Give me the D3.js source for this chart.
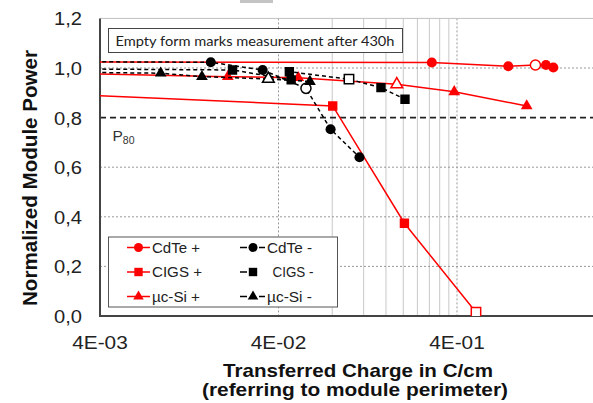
<!DOCTYPE html>
<html>
<head>
<meta charset="utf-8">
<script src="https://cdn.jsdelivr.net/npm/d3@7"></script>
<style>
  body { margin: 0; background: #fff; }
  svg { display: block; font-family: "Liberation Sans", Arial, sans-serif; }
</style>
</head>
<body>
<div id="chart"></div>
<script>
// axis ticks
const yTicks = [0, 0.2, 0.4, 0.6, 0.8, 1.0, 1.2];
const yTickLabels = ["0,0", "0,2", "0,4", "0,6", "0,8", "1,0", "1,2"];
const xTicks = [0.004, 0.04, 0.4];
const xTickLabels = ["4E-03", "4E-02", "4E-01"];
const minorX = [0.08, 0.12, 0.16, 0.2, 0.24, 0.28, 0.32, 0.36];
const p80 = 0.8;

// positive polarity (red, solid)
const cdtePlusX = [0.002, 0.289, 0.775, 1.10, 1.26, 1.386];
const cdtePlusY = [1.024, 1.022, 1.007, 1.012, 1.012, 1.002];
const cigsPlusX = [0.002, 0.0805, 0.203, 0.511];
const cigsPlusY = [0.897, 0.847, 0.374, 0.015];
const siPlusX = [0.002, 0.0208, 0.0516, 0.184, 0.386, 0.983];
const siPlusY = [0.980, 0.965, 0.961, 0.934, 0.904, 0.847];

// negative polarity (black, dashed)
const cdteMinusX = [0.002, 0.0167, 0.0326, 0.057, 0.0783, 0.1137];
const cdteMinusY = [1.026, 1.023, 0.992, 0.918, 0.753, 0.640];
const cigsMinusX = [0.002, 0.0221, 0.0471, 0.046, 0.0993, 0.150, 0.2045];
const cigsMinusY = [0.997, 0.992, 0.952, 0.985, 0.955, 0.921, 0.874];
const siMinusX = [0.002, 0.00875, 0.0149, 0.0351, 0.060];
const siMinusY = [0.984, 0.979, 0.965, 0.956, 0.945];

// index of the "empty form" point (measurement after 430h)
const openIndex = { cdtePlus: 3, cigsPlus: 3, siPlus: 3, cdteMinus: 3, cigsMinus: 4, siMinus: 3 };

const plusLabels = ["CdTe +", "CIGS +", "µc-Si +"];
const minusLabels = ["CdTe -", "CIGS -", "µc-Si -"];

const width = 593, height = 403;
const plotLeft = 100, plotBottom = 316, plotTop = 18.4;

const x = d3.scaleLog().domain([0.004, 4]).range([plotLeft, 635.5]);
const y = d3.scaleLinear().domain([0, 1.2]).range([plotBottom, plotTop]);

const svg = d3.select("#chart").append("svg")
  .attr("width", width)
  .attr("height", height)
  .attr("viewBox", [0, 0, width, height]);

svg.append("defs").append("clipPath").attr("id", "plot")
  .append("rect").attr("x", plotLeft).attr("y", plotTop - 8)
  .attr("width", 640 - plotLeft).attr("height", plotBottom - plotTop + 8);

// little grey bar at the very top
svg.append("rect").attr("x", 240).attr("y", 0).attr("width", 33).attr("height", 3).attr("fill", "#c4c4c4");

// grid
svg.append("g").selectAll("line")
  .data(minorX).join("line")
  .attr("x1", d => x(d)).attr("x2", d => x(d))
  .attr("y1", plotTop).attr("y2", plotBottom)
  .attr("stroke", "#c8c8c8").attr("stroke-width", 1);

svg.append("g").selectAll("line")
  .data(xTicks.slice(1)).join("line")
  .attr("x1", d => x(d)).attr("x2", d => x(d))
  .attr("y1", plotTop).attr("y2", plotBottom)
  .attr("stroke", "#999").attr("stroke-dasharray", "2,2");

svg.append("g").selectAll("line")
  .data(yTicks.filter(d => d > 0 && d < 1.2 && d !== p80)).join("line")
  .attr("x1", plotLeft).attr("x2", width)
  .attr("y1", d => y(d)).attr("y2", d => y(d))
  .attr("stroke", "#999").attr("stroke-dasharray", "2,2");

// top border
svg.append("line").attr("x1", plotLeft).attr("x2", width).attr("y1", y(1.2)).attr("y2", y(1.2))
  .attr("stroke", "#c0c0c0");

// P80 line
svg.append("line").attr("x1", plotLeft).attr("x2", width).attr("y1", y(p80)).attr("y2", y(p80))
  .attr("stroke", "#222").attr("stroke-width", 1.6).attr("stroke-dasharray", "6,4");

const p80Text = svg.append("text").attr("x", 112.5).attr("y", 140.5)
  .attr("font-size", 15.5).attr("fill", "#333");
p80Text.append("tspan").text("P");
p80Text.append("tspan").attr("font-size", 10.5).attr("dy", 3).text("80");

// axes
svg.append("line").attr("x1", plotLeft).attr("x2", plotLeft).attr("y1", plotTop).attr("y2", plotBottom + 1)
  .attr("stroke", "#444").attr("stroke-width", 2);
svg.append("line").attr("x1", plotLeft - 1).attr("x2", width).attr("y1", plotBottom).attr("y2", plotBottom)
  .attr("stroke", "#444").attr("stroke-width", 2);

svg.append("g").selectAll("text")
  .data(yTicks).join("text")
  .attr("x", 82).attr("y", d => y(d) + 7)
  .attr("text-anchor", "end")
  .attr("font-size", 18.5).attr("fill", "#222")
  .attr("textLength", 28).attr("lengthAdjust", "spacingAndGlyphs")
  .text((d, i) => yTickLabels[i]);

svg.append("g").selectAll("text")
  .data(xTicks).join("text")
  .attr("x", d => x(d)).attr("y", 349)
  .attr("text-anchor", "middle")
  .attr("font-size", 17.5).attr("fill", "#222")
  .attr("textLength", 55.5).attr("lengthAdjust", "spacingAndGlyphs")
  .text((d, i) => xTickLabels[i]);

// axis titles
svg.append("text").attr("x", 358).attr("y", 376.5)
  .attr("text-anchor", "middle").attr("font-size", 19).attr("font-weight", "bold").attr("fill", "#111")
  .attr("textLength", 270).attr("lengthAdjust", "spacingAndGlyphs")
  .text("Transferred Charge in C/cm");
svg.append("text").attr("x", 355).attr("y", 396)
  .attr("text-anchor", "middle").attr("font-size", 19).attr("font-weight", "bold").attr("fill", "#111")
  .attr("textLength", 306).attr("lengthAdjust", "spacingAndGlyphs")
  .text("(referring to module perimeter)");
svg.append("text")
  .attr("transform", "translate(36.5,178) rotate(-90)")
  .attr("text-anchor", "middle").attr("font-size", 20).attr("font-weight", "bold").attr("fill", "#111")
  .attr("textLength", 256).attr("lengthAdjust", "spacingAndGlyphs")
  .text("Normalized Module Power");

// note box
svg.append("rect").attr("x", 108.5).attr("y", 28.5).attr("width", 294).attr("height", 24)
  .attr("fill", "#fff").attr("stroke", "#444");
svg.append("text").attr("x", 115.5).attr("y", 45.5)
  .attr("font-family", "Lato, 'Open Sans', sans-serif").attr("font-size", 14).attr("fill", "#222")
  .attr("textLength", 279).attr("lengthAdjust", "spacingAndGlyphs")
  .text("Empty form marks measurement after 430h");

// series
const red = "#ff0000";
const series = [
  { xs: cdtePlusX, ys: cdtePlusY, open: openIndex.cdtePlus, color: red, dash: null, sym: d3.symbolCircle, size: 80 },
  { xs: cigsPlusX, ys: cigsPlusY, open: openIndex.cigsPlus, color: red, dash: null, sym: d3.symbolSquare, size: 88 },
  { xs: siPlusX, ys: siPlusY, open: openIndex.siPlus, color: red, dash: null, sym: d3.symbolTriangle, size: 60 },
  { xs: cdteMinusX, ys: cdteMinusY, open: openIndex.cdteMinus, color: "#000", dash: "4,3", sym: d3.symbolCircle, size: 80 },
  { xs: cigsMinusX, ys: cigsMinusY, open: openIndex.cigsMinus, color: "#000", dash: "4,3", sym: d3.symbolSquare, size: 88 },
  { xs: siMinusX, ys: siMinusY, open: openIndex.siMinus, color: "#000", dash: "4,3", sym: d3.symbolTriangle, size: 60 }
];

const line = d3.line().x(d => x(d[0])).y(d => y(d[1]));
const plot = svg.append("g").attr("clip-path", "url(#plot)");

series.forEach(s => {
  const pts = s.xs.map((v, i) => [v, s.ys[i], i === s.open]);
  plot.append("path")
    .datum(pts)
    .attr("fill", "none")
    .attr("stroke", s.color)
    .attr("stroke-width", 1.5)
    .attr("stroke-dasharray", s.dash)
    .attr("d", line);
  plot.append("g").selectAll("path")
    .data(pts).join("path")
    .attr("transform", d => `translate(${x(d[0])},${y(d[1])})`)
    .attr("d", d3.symbol(s.sym, s.size))
    .attr("fill", d => d[2] ? "#fff" : s.color)
    .attr("stroke", s.color)
    .attr("stroke-width", d => d[2] ? 1.5 : 0);
});

// legend
const lg = svg.append("g");
lg.append("rect").attr("x", 108.5).attr("y", 237).attr("width", 229).attr("height", 70)
  .attr("fill", "#fff").attr("stroke", "#555");
const rowY = [247.5, 272, 296.5];
const plusW = [48, 50, 48];
const minusX = [267, 272.5, 267];
const minusW = [45, 41, 45];

series.forEach((s, i) => {
  const row = i % 3;
  const cy = rowY[row];
  if (i < 3) {
    lg.append("line").attr("x1", 127).attr("x2", 150).attr("y1", cy).attr("y2", cy)
      .attr("stroke", s.color).attr("stroke-width", 1.5);
    lg.append("path").attr("transform", `translate(138.5,${cy})`)
      .attr("d", d3.symbol(s.sym, s.size * 0.8)).attr("fill", s.color);
    lg.append("text").attr("x", 152).attr("y", cy + 5)
      .attr("font-size", 14).attr("fill", "#222")
      .attr("textLength", plusW[row]).attr("lengthAdjust", "spacingAndGlyphs")
      .text(plusLabels[row]);
  } else {
    lg.append("line").attr("x1", 240).attr("x2", 247).attr("y1", cy).attr("y2", cy)
      .attr("stroke", s.color).attr("stroke-width", 1.5);
    if (row !== 1) {
      lg.append("line").attr("x1", 259).attr("x2", 265).attr("y1", cy).attr("y2", cy)
        .attr("stroke", s.color).attr("stroke-width", 1.5);
    }
    lg.append("path").attr("transform", `translate(253,${cy})`)
      .attr("d", d3.symbol(s.sym, s.size * 0.8)).attr("fill", s.color);
    lg.append("text").attr("x", minusX[row]).attr("y", cy + 5)
      .attr("font-size", 14).attr("fill", "#222")
      .attr("textLength", minusW[row]).attr("lengthAdjust", "spacingAndGlyphs")
      .text(minusLabels[row]);
  }
});
</script>
</body>
</html>
